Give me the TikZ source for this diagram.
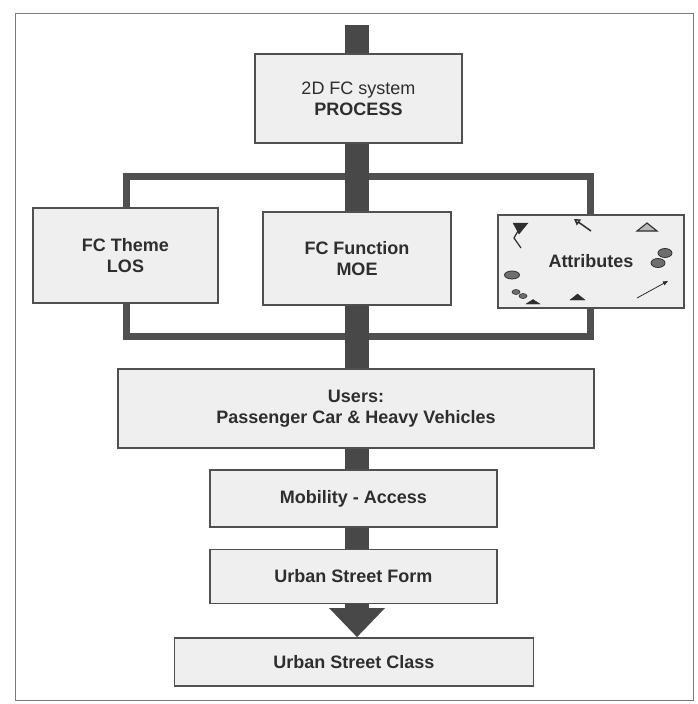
\documentclass[tikz,border=0pt]{standalone}
\usepackage{fontspec}
\setmainfont{Liberation Sans}
\usetikzlibrary{backgrounds,arrows.meta}
\definecolor{boxfill}{HTML}{EFEFEF}
\definecolor{boxline}{HTML}{505050}
\definecolor{bargray}{HTML}{484848}
\definecolor{txt}{HTML}{2E2E2E}
\definecolor{framecol}{HTML}{7A7A7A}
\definecolor{icongray}{HTML}{6E6E6E}
\begin{document}
\begin{tikzpicture}[x=1pt,y=-1pt,
  box/.style={draw=boxline, line width=1.8pt, fill=boxfill, text=txt,
    font=\fontsize{18}{21}\selectfont\bfseries, align=center, inner sep=0pt},
  loopline/.style={draw=boxline, line width=7pt},
  barline/.style={draw=bargray, line width=24pt},
  icon/.style={draw=txt, fill=txt},
  iconline/.style={draw=txt, line width=1.2pt}]
\useasboundingbox (0,0) rectangle (698,704);
\draw[framecol, line width=1pt] (15,13) rectangle (693,700);

\node[box, minimum width=207pt, minimum height=89pt] (proc) at (358.5,98.5)
  {\mdseries 2D FC system\\PROCESS};
\node[box, minimum width=185pt, minimum height=95pt] (theme) at (125.5,255.5)
  {FC Theme\\LOS};
\node[box, minimum width=188pt, minimum height=93pt] (func) at (357,258.5)
  {FC Function\\MOE};
\node[box, minimum width=186pt, minimum height=93pt] (attr) at (591,261.5)
  {Attributes};
\node[box, minimum width=476pt, minimum height=79pt] (users) at (356,408.5)
  {Users:\\Passenger Car \& Heavy Vehicles};
\node[box, minimum width=287pt, minimum height=57pt] (mob) at (353.5,498.5)
  {Mobility - Access};
\node[box, minimum width=287pt, minimum height=54pt] (form) at (353.5,576.5)
  {Urban Street Form};
\node[box, minimum width=359pt, minimum height=48pt] (class) at (354,662)
  {Urban Street Class};

\coordinate (top) at (357,25);
\coordinate (headtop) at (357,608);
\coordinate (tip) at (headtop |- class.north);
\coordinate (loopnw) at (126,176);
\coordinate (loopse) at (590,336);

\begin{scope}[on background layer]
  \draw[loopline] (loopnw) rectangle (loopse);
  \draw[barline] (top) -- (headtop);
  \fill[bargray] ([xshift=-28pt]headtop) -- ([xshift=28pt]headtop) -- (tip) -- cycle;
\end{scope}

% attribute icons
\fill[icon] (513,223) -- (528,223) -- (519,234) -- cycle;
\draw[iconline] (518,231) -- (514,238) -- (521,248);
\draw[iconline, line width=1.5pt, -{Triangle[open, length=6pt, width=7pt]}] (591,231) -- (574,219);
\filldraw[fill=gray!55, draw=txt, line width=1.1pt] (637,231) -- (657,231) -- (647,223) -- cycle;
\filldraw[fill=icongray, draw=txt, line width=0.8pt] (665,253) ellipse [x radius=7pt, y radius=4.5pt];
\filldraw[fill=icongray, draw=txt, line width=0.8pt] (658,263) ellipse [x radius=7pt, y radius=4.5pt];
\draw[draw=txt, line width=0.8pt, -{Triangle[length=5pt, width=4pt]}] (637,298) -- (668,281);
\filldraw[fill=icongray, draw=txt, line width=0.8pt] (512,275) ellipse [x radius=7.5pt, y radius=4pt];
\filldraw[fill=icongray, draw=txt, line width=0.6pt] (516,292) ellipse [x radius=4pt, y radius=2.5pt];
\filldraw[fill=icongray, draw=txt, line width=0.6pt] (523,296) ellipse [x radius=4pt, y radius=2.5pt];
\fill[icon] (526,304) -- (540,304) -- (533,299.5) -- cycle;
\fill[icon] (570,300) -- (585,300) -- (577.5,294) -- cycle;
\end{tikzpicture}
\end{document}
